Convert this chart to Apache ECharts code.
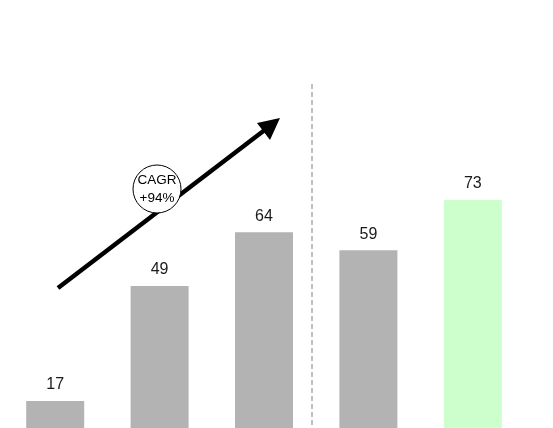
<!DOCTYPE html>
<html><head><meta charset="utf-8">
<script src="https://cdn.jsdelivr.net/npm/echarts@6/dist/echarts.min.js"></script>
<style>html,body{margin:0;padding:0;background:#fff}#c{width:553px;height:428px}</style>
</head><body><div id="c"></div>
<script>
const categories = ['A', 'B', 'C', 'D', 'E'];
const values = [17, 49, 64, 59, 73];
const barColors = ['#b3b3b3', '#b3b3b3', '#b3b3b3', '#b3b3b3', '#ccffcc'];
const cagrLines = ['CAGR', '+94%'];

const chart = echarts.init(document.getElementById('c'));
chart.setOption({
  animation: false,
  grid: { left: 3, top: 103, width: 522, height: 359, outerBoundsMode: 'none', containLabel: false },
  xAxis: { type: 'category', data: categories, show: false },
  yAxis: { type: 'value', min: 0, max: 100, show: false },
  series: [{
    type: 'bar',
    barWidth: 58,
    data: values.map((v, i) => ({ value: v, itemStyle: { color: barColors[i] } })),
    label: { show: true, position: 'top', distance: 8, fontSize: 16, color: '#1a1a1a', fontFamily: 'Liberation Sans' }
  }],
  graphic: [
    { type: 'line', shape: { x1: 312, y1: 84, x2: 312, y2: 428 }, style: { stroke: '#808080', lineWidth: 1, lineDash: [5, 3] } },
    { type: 'line', shape: { x1: 58, y1: 288, x2: 266, y2: 129 }, style: { stroke: '#000', lineWidth: 4.5 } },
    { type: 'polygon', shape: { points: [[280, 118], [257, 123], [270, 140]] }, style: { fill: '#000' } },
    { type: 'circle', shape: { cx: 157, cy: 189, r: 24 }, style: { fill: '#fff', stroke: '#000', lineWidth: 1 } },
    { type: 'text', x: 157, y: 180, style: { text: cagrLines[0], align: 'center', verticalAlign: 'middle', fontSize: 13.5, fill: '#000', fontFamily: 'Liberation Sans' } },
    { type: 'text', x: 157, y: 198, style: { text: cagrLines[1], align: 'center', verticalAlign: 'middle', fontSize: 13.5, fill: '#000', fontFamily: 'Liberation Sans' } }
  ]
});
</script></body></html>
